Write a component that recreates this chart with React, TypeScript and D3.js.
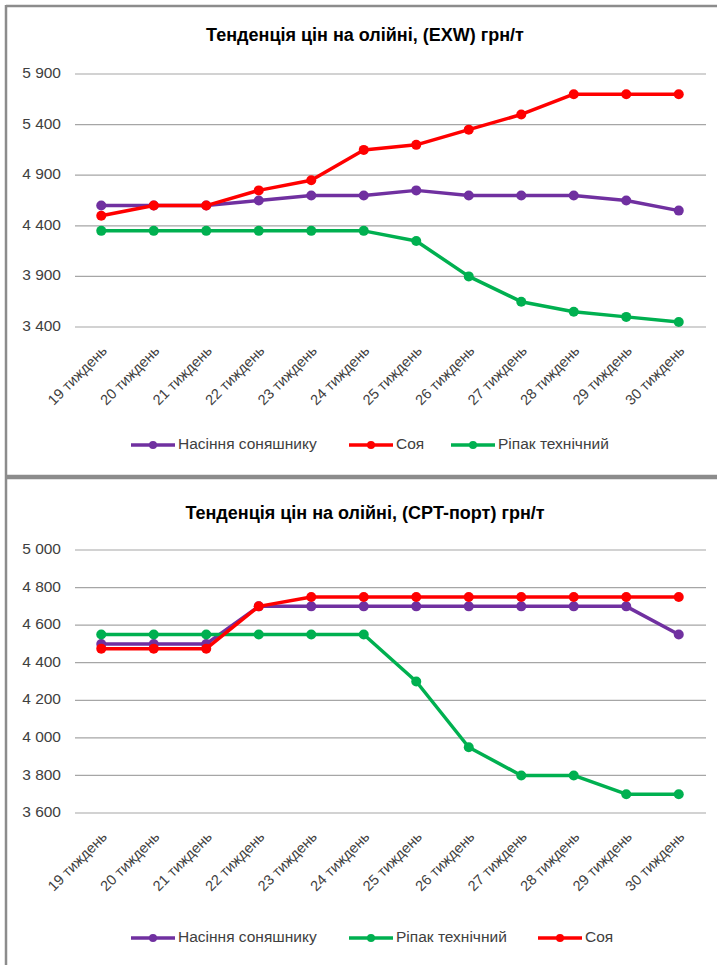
import React from "react";
import * as d3 from "d3";

const weeks = [
  "19 тиждень", "20 тиждень", "21 тиждень", "22 тиждень", "23 тиждень", "24 тиждень",
  "25 тиждень", "26 тиждень", "27 тиждень", "28 тиждень", "29 тиждень", "30 тиждень",
];

// EXW chart
const exwSunflower = [4600, 4600, 4600, 4650, 4700, 4700, 4750, 4700, 4700, 4700, 4650, 4550];
const exwSoy = [4500, 4600, 4600, 4750, 4850, 5150, 5200, 5350, 5500, 5700, 5700, 5700];
const exwRapeseed = [4350, 4350, 4350, 4350, 4350, 4350, 4250, 3900, 3650, 3550, 3500, 3450];
const exwTicks = [3400, 3900, 4400, 4900, 5400, 5900];

// CPT-port chart
const cptSunflower = [4500, 4500, 4500, 4700, 4700, 4700, 4700, 4700, 4700, 4700, 4700, 4550];
const cptRapeseed = [4550, 4550, 4550, 4550, 4550, 4550, 4300, 3950, 3800, 3800, 3700, 3700];
const cptSoy = [4475, 4475, 4475, 4700, 4750, 4750, 4750, 4750, 4750, 4750, 4750, 4750];
const cptTicks = [3600, 3800, 4000, 4200, 4400, 4600, 4800, 5000];

const PURPLE = "#7030A0";
const RED = "#FF0000";
const GREEN = "#00B050";
const FONT = "'Liberation Sans', Arial, sans-serif";

type Series = { name: string; color: string; values: number[] };

function fmt(v: number) {
  return d3.format(",")(v).replace(/,/g, " ");
}

function Chart(props: {
  top: number;
  title: string;
  series: Series[];
  ticks: number[];
  yTop: number;
  yBottom: number;
  legendOffset: number;
  legendX: number[];
}) {
  const { top, title, series, ticks, yTop, yBottom, legendOffset, legendX } = props;
  const x = d3.scalePoint<string>().domain(weeks).range([75, 705]).padding(0.5);
  const y = d3
    .scaleLinear()
    .domain([ticks[0], ticks[ticks.length - 1]])
    .range([top + yBottom, top + yTop]);
  const line = d3
    .line<number>()
    .x((_, i) => x(weeks[i]) as number)
    .y((d) => y(d));
  const labelY = top + yBottom + 22;
  const legendY = top + yBottom + legendOffset;

  return (
    <g>
      <text
        x={365}
        y={top + 36}
        textAnchor="middle"
        dominantBaseline="middle"
        fontFamily={FONT}
        fontWeight="bold"
        fontSize={18}
        fill="#000"
      >
        {title}
      </text>
      {ticks.map((t) => (
        <g key={t}>
          <line x1={75} x2={706} y1={y(t)} y2={y(t)} stroke="#a6a6a6" strokeWidth={1.2} />
          <text
            x={61}
            y={y(t)}
            textAnchor="end"
            dominantBaseline="middle"
            fontFamily={FONT}
            fontSize={15.5}
            fill="#404040"
          >
            {fmt(t)}
          </text>
        </g>
      ))}
      {weeks.map((w) => {
        const px = (x(w) as number) + 4;
        return (
          <text
            key={w}
            transform={`translate(${px},${labelY}) rotate(-45)`}
            textAnchor="end"
            dominantBaseline="middle"
            fontFamily={FONT}
            fontSize={14.5}
            fill="#404040"
          >
            {w}
          </text>
        );
      })}
      {series.map((s) => (
        <g key={s.name}>
          <path d={line(s.values) as string} fill="none" stroke={s.color} strokeWidth={3.5} strokeLinejoin="round" />
          {s.values.map((v, i) => (
            <circle key={i} cx={x(weeks[i]) as number} cy={y(v)} r={5} fill={s.color} />
          ))}
        </g>
      ))}
      {series.map((s, i) => {
        const lx = legendX[i];
        return (
          <g key={"lg" + s.name}>
            <line x1={lx} x2={lx + 44} y1={legendY} y2={legendY} stroke={s.color} strokeWidth={3.5} />
            <circle cx={lx + 22} cy={legendY} r={4} fill={s.color} />
            <text
              x={lx + 47}
              y={legendY}
              dominantBaseline="middle"
              fontFamily={FONT}
              fontSize={15.5}
              fill="#404040"
            >
              {s.name}
            </text>
          </g>
        );
      })}
    </g>
  );
}

export default function App() {
  return (
    <svg
      width={717}
      height={965}
      style={{ position: "absolute", left: 0, top: 0, background: "#fff" }}
    >
      <rect x={0} y={0} width={717} height={965} fill="#fff" />
      <Chart
        top={0}
        title="Тенденція цін на олійні, (EXW) грн/т"
        series={[
          { name: "Насіння соняшнику", color: PURPLE, values: exwSunflower },
          { name: "Соя", color: RED, values: exwSoy },
          { name: "Ріпак технічний", color: GREEN, values: exwRapeseed },
        ]}
        ticks={exwTicks}
        yTop={74}
        yBottom={327}
        legendOffset={118}
        legendX={[131, 349, 451]}
      />
      <Chart
        top={478}
        title="Тенденція цін на олійні, (CPT-порт) грн/т"
        series={[
          { name: "Насіння соняшнику", color: PURPLE, values: cptSunflower },
          { name: "Ріпак технічний", color: GREEN, values: cptRapeseed },
          { name: "Соя", color: RED, values: cptSoy },
        ]}
        ticks={cptTicks}
        yTop={72}
        yBottom={335}
        legendOffset={125}
        legendX={[131, 349, 538]}
      />
      <line x1={6} x2={717} y1={6} y2={6} stroke="#8c8c8c" strokeWidth={2.5} />
      <line x1={6} x2={6} y1={5} y2={965} stroke="#8c8c8c" strokeWidth={2.5} />
      <line x1={5} x2={717} y1={477} y2={477} stroke="#8c8c8c" strokeWidth={4.5} />
    </svg>
  );
}
